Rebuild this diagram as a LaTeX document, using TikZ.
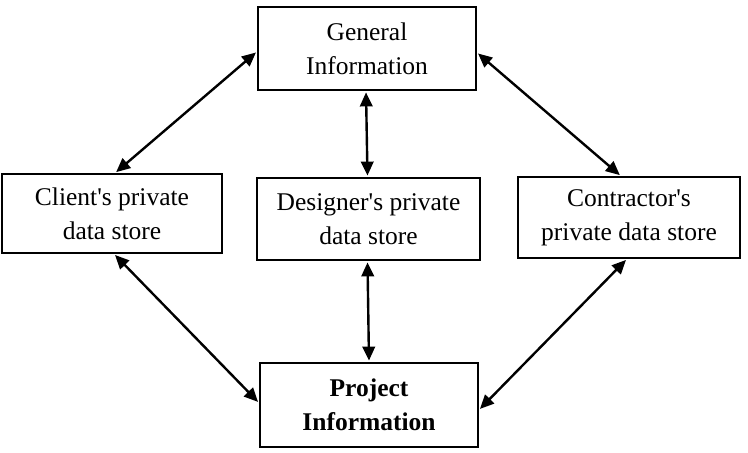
\documentclass[tikz,border=0pt]{standalone}
\usepackage{fontspec}
\setmainfont{Liberation Serif}
\usetikzlibrary{arrows.meta,calc}
\newcommand{\apos}{\textquotesingle}
\begin{document}
\begin{tikzpicture}[x=1pt,y=-1pt,
  box/.style={draw,line width=1.8pt,inner sep=0pt,align=center,
    font=\fontsize{25.5}{34}\selectfont},
  link/.style={line width=2.4pt,{Triangle[length=14pt,width=12.5pt]}-{Triangle[length=14pt,width=12.5pt]},shorten >=1.5pt,shorten <=1.5pt}]
\useasboundingbox (0,0) rectangle (748,453);
\node[box,minimum width=218pt,minimum height=83pt] (ge) at (367,48.5) {General\\Information};
\node[box,minimum width=220pt,minimum height=79pt] (cl) at (112,213.5) {Client\apos s private\\data store};
\node[box,minimum width=223pt,minimum height=82pt] (de) at (368.5,219) {Designer\apos s private\\data store};
\node[box,minimum width=222pt,minimum height=81pt] (co) at (629,217.5) {Contractor\apos s\\private data store};
\node[box,minimum width=218pt,minimum height=84pt] (pr) at (369,405) {\bfseries Project\\\bfseries Information};
\draw[link] ([xshift=3pt]cl.north) -- ([yshift=-3pt]ge.west);
\draw[link] ([yshift=-4pt]ge.east) -- ([xshift=-8pt]co.north);
\draw[link] ([xshift=-1pt]ge.south) -- ([xshift=-1pt]de.north);
\draw[link] ([xshift=-1pt]de.south) -- (pr.north);
\draw[link] ([xshift=2pt]cl.south) -- ([yshift=2pt]pr.west);
\draw[link] ([xshift=-2pt]co.south) -- ([yshift=-5pt]pr.east);
\end{tikzpicture}
\end{document}
